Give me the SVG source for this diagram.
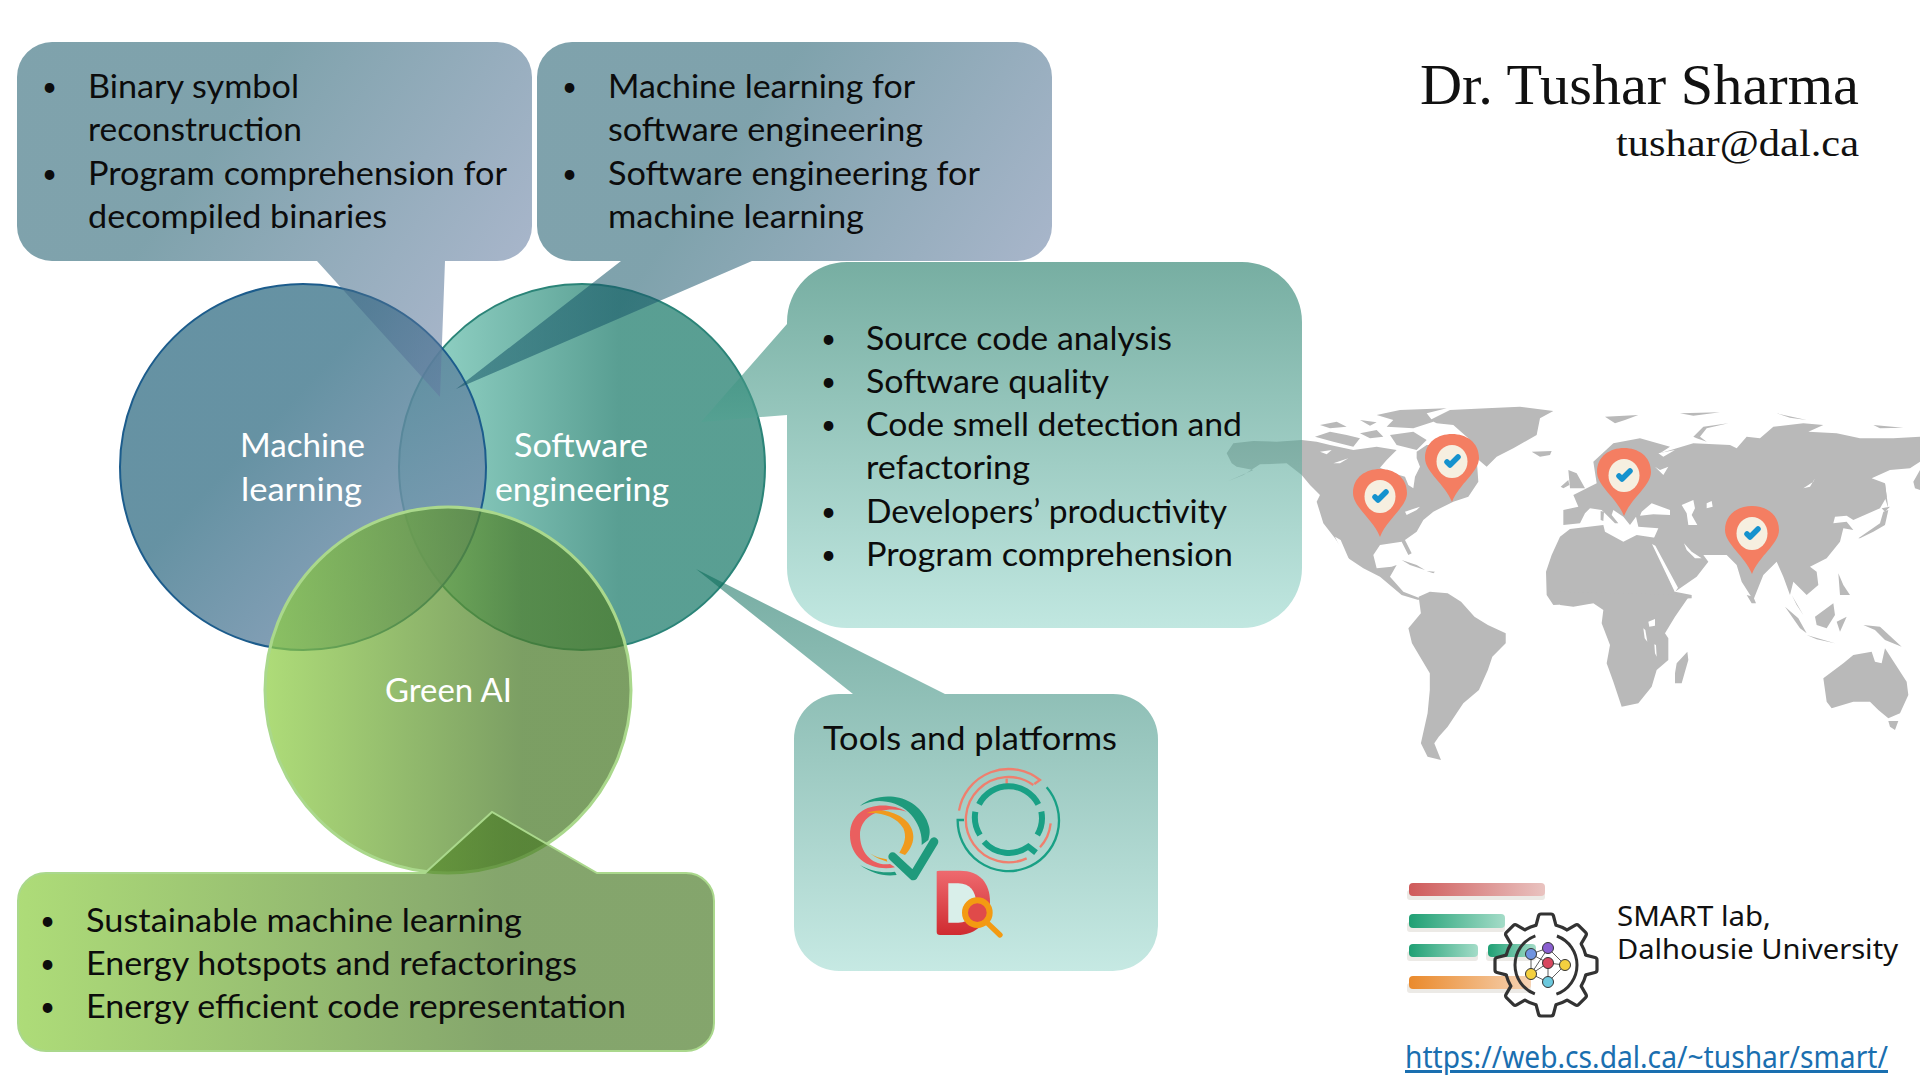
<svg xmlns="http://www.w3.org/2000/svg" width="1920" height="1080" viewBox="0 0 1920 1080">
<style>
text{font-family:"Lato","Noto Sans","Liberation Sans",sans-serif}
.b{font-size:32px;fill:#0c0c0c}
.d{font-size:26px;fill:#0c0c0c}
.w{font-size:32px;fill:#fff}
.t{font-family:"Liberation Serif","DejaVu Serif",serif;fill:#111}
.s{font-family:"Noto Sans","Liberation Sans",sans-serif}
.m{fill:#b9b9b9}
.h{fill:#fff}
.n{stroke:#333;stroke-width:.8;fill:none}
.tl{fill:none;stroke:#19a085}
.sl{fill:none;stroke:#ef7f6e}
.gn{stroke:#333;stroke-width:1}
</style>
<defs>
<linearGradient id="g1" gradientUnits="userSpaceOnUse" x1="17" y1="42" x2="530" y2="400"><stop offset="0" stop-color="#165668"/><stop offset=".35" stop-color="#165668"/><stop offset="1" stop-color="#7382ad"/></linearGradient>
<linearGradient id="g2" gradientUnits="userSpaceOnUse" x1="537" y1="42" x2="1050" y2="400"><stop offset="0" stop-color="#165668"/><stop offset=".35" stop-color="#165668"/><stop offset="1" stop-color="#7382ad"/></linearGradient>
<linearGradient id="g3" gradientUnits="userSpaceOnUse" x1="0" y1="262" x2="0" y2="628"><stop offset="0" stop-color="#1c7864"/><stop offset="1" stop-color="#97d7cc"/></linearGradient>
<linearGradient id="g4" gradientUnits="userSpaceOnUse" x1="0" y1="569" x2="0" y2="971"><stop offset="0" stop-color="#066856"/><stop offset="1" stop-color="#97d7cc"/></linearGradient>
<linearGradient id="gg" gradientUnits="userSpaceOnUse" x1="17" y1="0" x2="714" y2="0"><stop offset="0" stop-color="#86cb36"/><stop offset=".7" stop-color="#487924"/><stop offset="1" stop-color="#487924"/></linearGradient>
<linearGradient id="gc" gradientUnits="userSpaceOnUse" x1="265" y1="0" x2="632" y2="0"><stop offset="0" stop-color="#90cf46"/><stop offset=".7" stop-color="#4b7b2a"/><stop offset="1" stop-color="#4b7b2a"/></linearGradient>
<linearGradient id="ml" gradientUnits="userSpaceOnUse" x1="140" y1="330" x2="470" y2="640"><stop offset="0" stop-color="#4b7f93"/><stop offset=".35" stop-color="#4b7f93"/><stop offset="1" stop-color="#889aba"/></linearGradient>
<linearGradient id="se" gradientUnits="userSpaceOnUse" x1="399" y1="0" x2="765" y2="0"><stop offset="0" stop-color="#6ec9b6"/><stop offset=".6" stop-color="#137665"/><stop offset="1" stop-color="#137665"/></linearGradient>
<linearGradient id="r1" x1="0" x2="1" y1="0" y2="0"><stop offset="0" stop-color="#cf5a5a"/><stop offset="1" stop-color="#e9c3c0"/></linearGradient>
<linearGradient id="gb" x1="0" x2="1" y1="0" y2="0"><stop offset="0" stop-color="#1fa074"/><stop offset="1" stop-color="#a4dcc8"/></linearGradient>
<linearGradient id="ob" x1="0" x2="1" y1="0" y2="0"><stop offset="0" stop-color="#ea8a2c"/><stop offset="1" stop-color="#f6d3b4"/></linearGradient>
<linearGradient id="dr" x1="0" x2="0" y1="0" y2="1"><stop offset="0" stop-color="#ee6a6f"/><stop offset="1" stop-color="#cf2b30"/></linearGradient>
<g id="pin"><path d="M0,68C-7,50 -27,38 -27,24 C-27,8 -14,0 0,0 C14,0 27,8 27,24 C27,38 7,50 0,68Z" fill="#f47e62"/><ellipse cx="0" cy="27.500" rx="15.500" ry="16.500" fill="#f6efe0"/><path d="M-5,28L-2,31L6,23" fill="none" stroke="#1592ce" stroke-width="5.500" stroke-linejoin="round" stroke-linecap="round"/></g>
<path id="tooth" d="M39.800,-9.900L49,-7.500Q51,-7 51,-5V5Q51,7 49,7.500L39.800,9.900" fill="none" stroke="#333" stroke-width="3.200" stroke-linejoin="round" stroke-linecap="round"/>
</defs>
<rect width="1920" height="1080" fill="#fff"/>

<g id="world-map">
<g transform="translate(1220,395) scale(.33333)">
<path class="m" d="M20,175L40,145L100,138L170,140L245,135L290,140L330,150L400,165L470,155L530,165L500,195L480,218L520,235L555,245L565,270L580,280L585,245L600,215L590,190L590,170L620,150L700,150L770,190L775,260L745,305L700,320L640,350L610,375L590,410L555,435L575,475L565,480L545,440L480,450L460,480L470,520L515,515L530,510L510,545L550,590L600,610L595,615L545,600L480,545L430,520L385,490L345,430L310,385L290,320L300,300L270,270L245,240L200,205L120,208L70,240L20,260L100,225L50,215L35,205Z"/>
<path class="h" d="M345,425L362,435L388,495L370,480ZM555,350L600,335L590,345L560,360ZM340,205L385,190L360,205ZM300,170L335,165L320,178Z"/>
<path class="m" d="M630,75L690,45L800,40L900,35L1000,48L960,70L950,120L880,160L830,185L800,215L770,190L745,130L700,90L650,85Z"/>
<path class="m" d="M285,125L330,110L380,120L420,130L400,155L340,140ZM300,90L350,80L380,95L330,100ZM420,115L470,105L490,125L450,130ZM470,60L540,45L680,40L620,55L640,80L580,100L500,95L520,75ZM510,120L580,110L620,135L590,165L530,150ZM420,75L470,82L450,92ZM545,495L590,510L615,525L570,510ZM620,528L645,530L640,535ZM935,170L995,168L990,180L960,185Z"/>
</g>
<g transform="translate(1220,380) scale(.44643,.33333)">
<path class="m" d="M445,650L470,635L510,640L540,665L570,710L600,735L640,760L640,790L610,830L600,870L580,930L545,970L530,1000L510,1040L490,1070L480,1090L495,1140L465,1130L450,1090L465,1000L470,930L470,880L430,790L422,745L450,700Z"/>
</g>
<g transform="translate(1560,395) scale(.33333)">
<path class="m" d="M-42,530L-25,480L0,425L30,402L130,390L135,410L190,440L230,420L295,430L280,450L345,590L395,600L395,610L-20,630L-40,600Z"/>
<path class="m" d="M10,345L55,335L40,300L110,265L100,200L160,145L240,130L330,155L300,175L350,160L400,145L510,150L530,160L560,125L600,130L640,95L730,85L790,90L745,110L830,115L900,130L1000,130L1080,125V200L1050,220L990,225L935,250L975,265L980,305L960,340L880,375L860,362L825,365L820,385L860,380L880,405L850,400L840,440L800,490L750,515L770,530L775,570L740,600L700,560L690,600L670,545L650,500L610,540L580,615L545,560L530,510L500,480L430,480L445,500L410,545L345,590L275,445L295,400L235,395L228,365L210,390L190,365L160,345L155,360L175,385L165,385L125,345L90,340L75,355L60,385L10,390Z"/>
<path class="h" d="M245,350L275,325L330,345L330,360L280,358L240,362ZM365,330L400,315L405,340L395,360L412,390L385,390L380,355ZM440,325L455,318L458,335L440,340ZM730,280L760,260L765,250L750,275ZM295,175L345,165L310,185ZM300,225L325,215L310,240L285,215ZM372,445L395,470L425,490L405,490L380,465ZM276,447L286,452L354,578L345,592Z"/>
<path class="m" d="M895,430L960,385L970,350L985,345L975,390L940,410L900,430ZM965,340L990,335L975,350ZM975,265L985,340L972,300ZM1060,260L1080,225V285L1065,280ZM30,280L25,225L50,235L75,280ZM2,275L25,255L28,270L10,280ZM135,65L235,60L195,75L165,85ZM400,125L430,95L505,85L440,100L420,125L440,140L410,130ZM360,55L480,52L400,62ZM650,55L740,75L690,68ZM940,90L1030,98L960,100ZM122,348L132,350L130,378L122,375ZM835,535L850,570L870,600L840,600Z"/>
</g>
<g transform="translate(1560,595) scale(.33333)">
<path class="m" d="M0,30L40,35L100,25L130,45L125,85L150,150L140,205L160,260L185,335L235,325L275,275L290,225L325,195L325,130L315,115L345,65L390,0L0,-10Z"/>
<path class="h" d="M265,80L285,72L285,92L268,95ZM250,100L256,105L262,140L254,130ZM283,148L288,150L290,185L285,175Z"/>
<path class="m" d="M345,235L350,205L382,170L385,195L365,265L345,265ZM560,0L580,5L588,25L575,25ZM675,35L715,70L740,115L720,100ZM695,0L730,60L710,30ZM765,65L820,25L825,60L800,100L770,90ZM830,80L860,65L840,110ZM740,120L825,145L770,133ZM910,90L960,95L1025,155L975,135L945,105ZM790,250L850,205L880,180L935,170L945,200L965,205L975,160L1040,260L1045,300L1020,355L985,370L955,345L930,320L880,320L815,340L800,320ZM985,378L1015,378L1005,405L990,395Z"/>
</g>
</g>
<g id="pins">
<use href="#pin" x="1380" y="469"/>
<use href="#pin" x="1452" y="434"/>
<use href="#pin" x="1624" y="448"/>
<use href="#pin" x="1752" y="506"/>
</g>

<g id="circle-se"><circle cx="582" cy="467" r="183" fill="url(#se)" fill-opacity=".7" stroke="#2b8478" stroke-width="2"/></g>
<g id="circle-ml"><circle cx="303" cy="467" r="183" fill="url(#ml)" fill-opacity=".85" stroke="#1c5c8c" stroke-width="2"/></g>
<g id="circle-green"><circle cx="448" cy="690" r="183" fill="url(#gc)" fill-opacity=".73" stroke="#aad88c" stroke-width="3"/></g>
<g id="labels">
<text class="w" x="240" y="457" textLength="125" lengthAdjust="spacingAndGlyphs">Machine</text>
<text class="w" x="241" y="501" textLength="121" lengthAdjust="spacingAndGlyphs">learning</text>
<text class="w" x="514" y="457" textLength="134" lengthAdjust="spacingAndGlyphs">Software</text>
<text class="w" x="495" y="501" textLength="174" lengthAdjust="spacingAndGlyphs">engineering</text>
<text class="w" x="385" y="702" textLength="127" lengthAdjust="spacingAndGlyphs">Green AI</text>
</g>

<g id="callout-binary">
<path d="M52,42H497A35,35 0 0 1 532,77V226A35,35 0 0 1 497,261H445L440,397L317,261H52A35,35 0 0 1 17,226V77A35,35 0 0 1 52,42Z" fill="url(#g1)" fill-opacity=".55"/>
<text class="d" x="42" y="96">•</text><text class="b" x="88" y="97.500" textLength="211" lengthAdjust="spacingAndGlyphs">Binary symbol</text>
<text class="b" x="88" y="141" textLength="214" lengthAdjust="spacingAndGlyphs">reconstruction</text>
<text class="d" x="42" y="183">•</text><text class="b" x="88" y="184.500" textLength="419" lengthAdjust="spacingAndGlyphs">Program comprehension for</text>
<text class="b" x="88" y="227.500" textLength="299" lengthAdjust="spacingAndGlyphs">decompiled binaries</text>
</g>
<g id="callout-mlse">
<path d="M572,42H1017A35,35 0 0 1 1052,77V226A35,35 0 0 1 1017,261H752L456,389L621,261H572A35,35 0 0 1 537,226V77A35,35 0 0 1 572,42Z" fill="url(#g2)" fill-opacity=".55"/>
<text class="d" x="562" y="96">•</text><text class="b" x="608" y="97.500" textLength="307" lengthAdjust="spacingAndGlyphs">Machine learning for</text>
<text class="b" x="608" y="141" textLength="315" lengthAdjust="spacingAndGlyphs">software engineering</text>
<text class="d" x="562" y="183">•</text><text class="b" x="608" y="184.500" textLength="372" lengthAdjust="spacingAndGlyphs">Software engineering for</text>
<text class="b" x="608" y="227.500" textLength="256" lengthAdjust="spacingAndGlyphs">machine learning</text>
</g>
<g id="callout-code">
<path d="M847,262H1242A60,60 0 0 1 1302,322V568A60,60 0 0 1 1242,628H847A60,60 0 0 1 787,568V415L701,422L787,324V322A60,60 0 0 1 847,262Z" fill="url(#g3)" fill-opacity=".6"/>
<text class="d" x="821" y="348">•</text><text class="b" x="866" y="350" textLength="306" lengthAdjust="spacingAndGlyphs">Source code analysis</text>
<text class="d" x="821" y="391">•</text><text class="b" x="866" y="393" textLength="243" lengthAdjust="spacingAndGlyphs">Software quality</text>
<text class="d" x="821" y="434">•</text><text class="b" x="866" y="436" textLength="376" lengthAdjust="spacingAndGlyphs">Code smell detection and</text>
<text class="b" x="866" y="479" textLength="164" lengthAdjust="spacingAndGlyphs">refactoring</text>
<text class="d" x="821" y="521">•</text><text class="b" x="866" y="523" textLength="361" lengthAdjust="spacingAndGlyphs">Developers’ productivity</text>
<text class="d" x="821" y="564">•</text><text class="b" x="866" y="566" textLength="367" lengthAdjust="spacingAndGlyphs">Program comprehension</text>
</g>
<g id="callout-tools">
<path d="M839,694H853L696,569L945,694H1113A45,45 0 0 1 1158,739V926A45,45 0 0 1 1113,971H839A45,45 0 0 1 794,926V739A45,45 0 0 1 839,694Z" fill="url(#g4)" fill-opacity=".55"/>
<text class="b" x="823" y="749.500" textLength="294" lengthAdjust="spacingAndGlyphs">Tools and platforms</text>
<g id="tool-icons" transform="translate(780,680) scale(.33333)">
<path fill="#1f9a7c" d="M240,378C290,335 400,335 440,420C450,445 452,455 445,480L425,495C430,440 390,375 320,365C290,360 265,365 240,378ZM240,555C275,580 310,590 350,585L345,575C310,580 275,575 240,555Z"/>
<path fill="#ea5f5f" d="M380,395C320,360 210,370 210,465C210,540 280,575 345,562L330,552C280,560 240,520 240,465C240,400 320,375 380,395Z"/>
<path fill="#f09a1d" d="M260,400C310,375 400,410 400,470C400,495 385,515 375,525L358,518C375,490 380,470 370,445C350,410 300,395 260,400ZM270,520C290,535 305,540 322,545L320,538C300,535 285,530 270,520Z"/>
<path d="M338,530L400,588L462,485" fill="none" stroke="#1f9a7c" stroke-width="26" stroke-linecap="round" stroke-linejoin="round"/>
<path class="tl" stroke-width="7" d="M800,322A152,152 0 1 1 533,420H552"/>
<path class="sl" stroke-width="7" d="M537,392A151,151 0 0 1 780,300L763,312M812,430A127,127 0 0 1 780,502M760,315A128,128 0 1 0 740,535M680,296V315"/>
<path class="tl" stroke-width="18" d="M597,373A100,100 0 0 1 775,373M586,395A100,100 0 0 0 600,465M784,395A100,100 0 0 1 772,465M612,485A100,100 0 0 0 745,500L768,518"/>
<path d="M470,575Q470,572 480,572H540C600,572 630,610 630,665C630,725 590,765 530,765H480Q470,765 470,755Z" fill="url(#dr)"/>
<path d="M505,610H535C570,610 588,635 588,668C588,700 570,728 535,728H505Z" fill="#d9efea"/>
<circle cx="592" cy="698" r="37" fill="#e04a4a" stroke="#f39a12" stroke-width="18"/>
<path d="M618,725L660,765" stroke="#f39a12" stroke-width="16" stroke-linecap="round"/>
</g>
</g>
<g id="callout-green">
<path d="M46,873H425L492,812L597,873H686A28,28 0 0 1 714,901V1023A28,28 0 0 1 686,1051H46A28,28 0 0 1 18,1023V901A28,28 0 0 1 46,873Z" fill="url(#gg)" fill-opacity=".67" stroke="#aad88c" stroke-width="2"/>
<text class="d" x="40" y="930">•</text><text class="b" x="86" y="932" textLength="436" lengthAdjust="spacingAndGlyphs">Sustainable machine learning</text>
<text class="d" x="40" y="973">•</text><text class="b" x="86" y="975" textLength="491" lengthAdjust="spacingAndGlyphs">Energy hotspots and refactorings</text>
<text class="d" x="40" y="1016">•</text><text class="b" x="86" y="1018" textLength="540" lengthAdjust="spacingAndGlyphs">Energy efficient code representation</text>
</g>

<g id="title">
<text class="t" x="1420" y="104" font-size="56" textLength="439" lengthAdjust="spacingAndGlyphs">Dr. Tushar Sharma</text>
<text class="t" x="1616" y="156" font-size="38" textLength="243" lengthAdjust="spacingAndGlyphs">tushar@dal.ca</text>
</g>

<g id="smart-lab">
<g fill="#eceae6"><rect x="1407" y="890" width="138" height="10" rx="3"/><rect x="1407" y="922" width="98" height="10" rx="3"/><rect x="1407" y="951" width="71" height="10" rx="3"/><rect x="1486" y="951" width="50" height="10" rx="3"/><rect x="1407" y="983" width="124" height="10" rx="3"/></g>
<rect x="1409" y="883" width="136" height="13" rx="4" fill="url(#r1)"/>
<rect x="1409" y="914" width="96" height="14" rx="4" fill="url(#gb)"/>
<rect x="1409" y="944" width="69" height="13" rx="4" fill="url(#gb)"/>
<rect x="1488" y="944" width="48" height="13" rx="4" fill="url(#gb)"/>
<rect x="1409" y="976" width="122" height="13" rx="4" fill="url(#ob)"/>
<g id="gear" transform="translate(1546,965)">
<circle r="41" fill="none" stroke="#333" stroke-width="3.200" stroke-dasharray="12.200 20" stroke-dashoffset="22.200"/>
<use href="#tooth"/><use href="#tooth" transform="rotate(45)"/><use href="#tooth" transform="rotate(90)"/><use href="#tooth" transform="rotate(135)"/><use href="#tooth" transform="rotate(180)"/><use href="#tooth" transform="rotate(225)"/><use href="#tooth" transform="rotate(270)"/><use href="#tooth" transform="rotate(315)"/>
<circle r="31" fill="none" stroke="#333" stroke-width="3" stroke-dasharray="75 22" stroke-dashoffset="-60"/>
<path class="n" d="M2,-17L-15,-11L2,-2L19,0L2,17L-15,9L2,-17M-15,-11L-15,9L2,-2L2,17M2,-17L19,0"/>
<circle class="gn" cx="2" cy="-17" r="5.500" fill="#8a5fd0"/><circle class="gn" cx="-15" cy="-11" r="5.500" fill="#6f93e0"/><circle class="gn" cx="2" cy="-2" r="5.500" fill="#d8475f"/><circle class="gn" cx="19" cy="0" r="5.500" fill="#f4d03f"/><circle class="gn" cx="-15" cy="9" r="5.500" fill="#f4d03f"/><circle class="gn" cx="2" cy="17" r="5.500" fill="#6cc9de"/>
</g>
<text class="s" x="1617" y="926" font-size="28" fill="#111" textLength="154" lengthAdjust="spacingAndGlyphs">SMART lab,</text>
<text class="s" x="1617" y="959" font-size="28" fill="#111" textLength="281" lengthAdjust="spacingAndGlyphs">Dalhousie University</text>
<text class="s" x="1405" y="1068" font-size="30" fill="#1a6fb0" text-decoration="underline" textLength="483" lengthAdjust="spacingAndGlyphs">https://web.cs.dal.ca/~tushar/smart/</text>
</g>
</svg>
